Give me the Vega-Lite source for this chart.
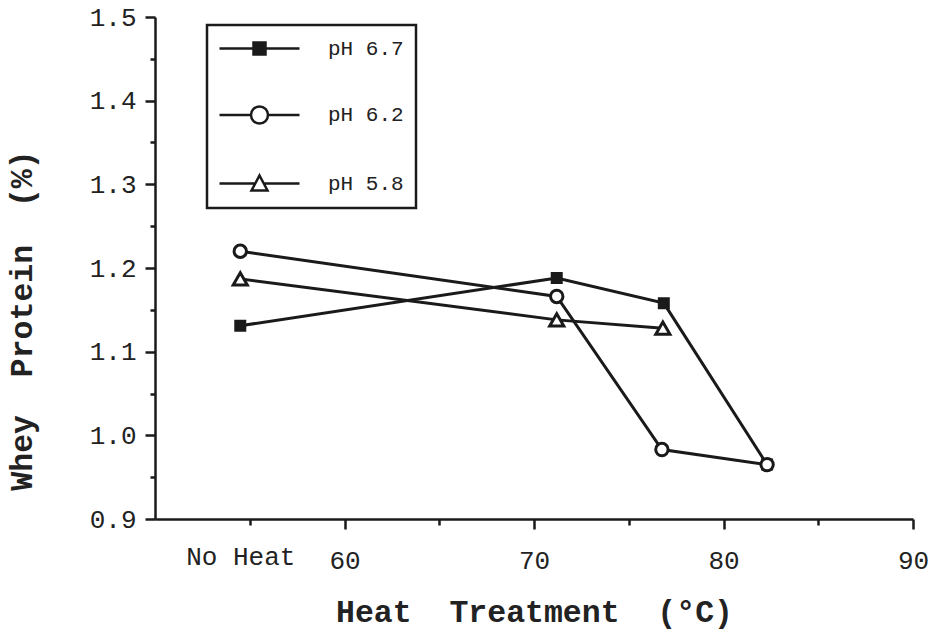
{
  "$schema": "https://vega.github.io/schema/vega-lite/v6.json",
  "width": 758,
  "height": 502,
  "autosize": {"type": "none"},
  "padding": {"left": 155, "top": 17, "right": 19, "bottom": 112},
  "background": "white",
  "config": {"view": {"stroke": null}, "font": "Liberation Mono", "legend": {"strokeWidth": 2.5}},
  "data": {
    "values": [
      {"ph": "pH 6.7", "temp": 54.5, "protein": 1.131},
      {"ph": "pH 6.7", "temp": 71.2, "protein": 1.188},
      {"ph": "pH 6.7", "temp": 76.85, "protein": 1.158},
      {"ph": "pH 6.7", "temp": 82.3, "protein": 0.965},
      {"ph": "pH 5.8", "temp": 54.5, "protein": 1.187},
      {"ph": "pH 5.8", "temp": 71.2, "protein": 1.138},
      {"ph": "pH 5.8", "temp": 76.8, "protein": 1.128},
      {"ph": "pH 6.2", "temp": 54.5, "protein": 1.22},
      {"ph": "pH 6.2", "temp": 71.2, "protein": 1.166},
      {"ph": "pH 6.2", "temp": 76.75, "protein": 0.983},
      {"ph": "pH 6.2", "temp": 82.3, "protein": 0.965}
    ]
  },
  "encoding": {
    "x": {
      "field": "temp",
      "type": "quantitative",
      "scale": {"domain": [50, 90], "nice": false, "zero": false},
      "axis": {
        "values": [54.5, 55, 60, 65, 70, 75, 80, 85, 90],
        "labelExpr": "datum.value == 54.5 ? 'No Heat' : (datum.value % 10 == 0 ? format(datum.value, 'd') : '')",
        "labelOverlap": false,
        "labelFlush": false,
        "grid": false,
        "domainColor": "#1a1a1a",
        "domainWidth": 2.5,
        "tickColor": "#1a1a1a",
        "tickWidth": 2.5,
        "tickSize": {"condition": {"test": "datum.value % 10 != 0", "value": 6}, "value": 10},
        "tickOpacity": {"condition": {"test": "datum.value == 54.5", "value": 0}, "value": 1},
        "labelFont": "Liberation Mono",
        "labelFontSize": 26,
        "labelColor": "#222",
        "labelBaseline": "middle",
        "labelPadding": 31,
        "title": "Heat\u00a0 Treatment\u00a0 (°C)",
        "titleFont": "Liberation Mono",
        "titleFontSize": 31.5,
        "titleFontWeight": "bold",
        "titleColor": "#222",
        "titleBaseline": "middle",
        "titleY": 93
      }
    },
    "y": {
      "field": "protein",
      "type": "quantitative",
      "scale": {"domain": [0.9, 1.5], "nice": false, "zero": false},
      "axis": {
        "values": [0.9, 0.95, 1.0, 1.05, 1.1, 1.15, 1.2, 1.25, 1.3, 1.35, 1.4, 1.45, 1.5],
        "labelExpr": "round(datum.value * 100) % 10 == 0 ? format(datum.value, '.1f') : ''",
        "labelOverlap": false,
        "labelFlush": false,
        "grid": false,
        "domainColor": "#1a1a1a",
        "domainWidth": 2.5,
        "tickColor": "#1a1a1a",
        "tickWidth": 2.5,
        "tickSize": {"condition": {"test": "round(datum.value * 100) % 10 != 0", "value": 5}, "value": 10},
        "labelFont": "Liberation Mono",
        "labelFontSize": 26,
        "labelColor": "#222",
        "labelPadding": 9,
        "title": "Whey\u00a0 Protein\u00a0 (%)",
        "titleFont": "Liberation Mono",
        "titleFontSize": 31.5,
        "titleFontWeight": "bold",
        "titleColor": "#222",
        "titleAngle": -90,
        "titleAlign": "center",
        "titleBaseline": "middle",
        "titleX": -133,
        "titleY": 303
      }
    }
  },
  "layer": [
    {
      "mark": {"type": "line", "color": "#1a1a1a", "strokeWidth": 3},
      "encoding": {"detail": {"field": "ph", "type": "nominal"}}
    },
    {
      "mark": {"type": "point", "stroke": "#1a1a1a", "strokeWidth": 3, "opacity": 1},
      "encoding": {
        "shape": {
          "condition": [
            {"test": "datum.ph === 'pH 6.7'", "value": "square"},
            {"test": "datum.ph === 'pH 6.2'", "value": "circle"}
          ],
          "value": "triangle-up"
        },
        "fill": {
          "condition": {"test": "datum.ph === 'pH 6.7'", "value": "#1a1a1a"},
          "value": "white"
        },
        "size": {
          "condition": [
            {"test": "datum.ph === 'pH 6.7'", "value": 81},
            {"test": "datum.ph === 'pH 6.2'", "value": 154}
          ],
          "value": 200
        }
      }
    },
    {
      "transform": [{"filter": "false"}],
      "mark": {"type": "point", "stroke": "#1a1a1a", "strokeWidth": 2.5, "opacity": 1},
      "encoding": {
        "shape": {
          "field": "ph",
          "type": "nominal",
          "scale": {
            "domain": ["pH 6.7", "pH 6.2", "pH 5.8"],
            "range": [
              "M-4,0H4M-0.6,-0.6H0.6V0.6H-0.6ZM-0.6,-0.4H0.6M-0.6,-0.2H0.6M-0.6,0.2H0.6M-0.6,0.4H0.6",
              "M-4,0H-0.85M0.85,0H4M0.85,0A0.85,0.85,0,1,1,-0.85,0A0.85,0.85,0,1,1,0.85,0Z",
              "M-4,0H-0.45M0.45,0H4M0,-0.8L0.8,0.7L-0.8,0.7Z"
            ]
          },
          "legend": {
            "orient": "none",
            "legendX": 52,
            "legendY": 8,
            "title": null,
            "padding": 12,
            "strokeColor": "#1a1a1a",
            "symbolSize": 400,
            "symbolStrokeWidth": 2.5,
            "symbolStrokeColor": "#1a1a1a",
            "symbolOffset": 29,
            "labelOffset": 57,
            "labelFont": "Liberation Mono",
            "labelFontSize": 21,
            "labelColor": "#222",
            "rowPadding": 41.5
          }
        }
      }
    }
  ]
}
